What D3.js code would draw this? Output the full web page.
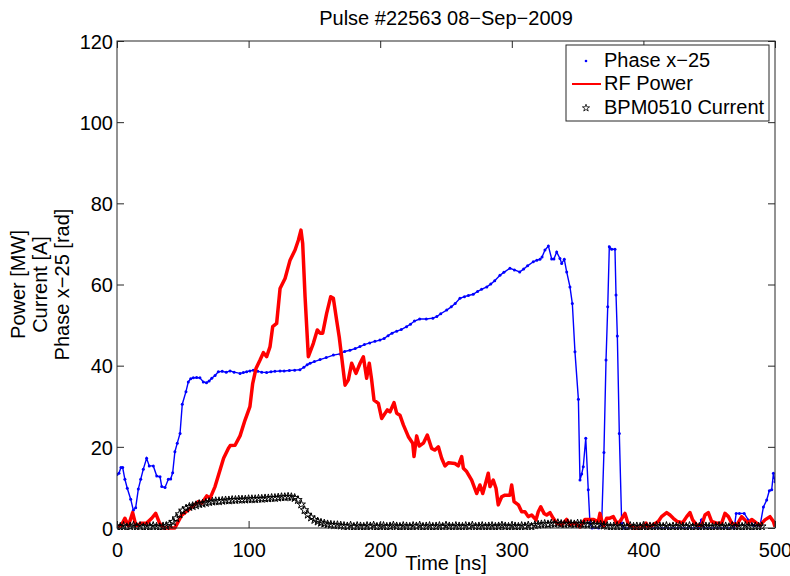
<!DOCTYPE html>
<html>
<head>
<meta charset="utf-8">
<script src="https://cdn.jsdelivr.net/npm/d3@7"></script>
<style>
  body { margin: 0; background: #fff; }
  text { font-family: "Liberation Sans", Arial, Helvetica, sans-serif; fill: #000; }
</style>
</head>
<body>
<div id="chart"></div>
<script>
// ---- data ----
var titleText = "Pulse #22563 08\u2212Sep\u22122009";
var xTicks = [0, 100, 200, 300, 400, 500];
var yTicks = [0, 20, 40, 60, 80, 100, 120];
var seriesNames = ["Phase x\u221225", "RF Power", "BPM0510 Current"];
var yLabelLines = ["Power [MW]", "Current [A]", "Phase x\u221225 [rad]"];

// Phase x-25 (blue)
var phaseT = [0,1.5,3,4.3,6,7.8,10.4,12.4,14.2,16.2,18,20,22.5,24.5,27.6,30.2,32.7,34,36.5,39,40.8,42.3,44,45.8,47.9,49.6,52.4,54.2,56,58,60.5,63,65.6,68,70,72,74.5,77,80,83,85.9,89,93.5,96,98.5,101,103.6,107,110,113.7,117,120,123.9,127,131,135,139,142,144.5,146.7,150,154.3,159,164.4,169.5,173,177,181,184.6,188,192,196,199.8,203,206,209,212.5,216,220,223,226,230,235,240,243,246,250.5,254,257,260.6,264,267,270.7,274,277,281,284,287,291,294,298.6,302,306,309,312,316.3,319,321.4,323,325.2,327.8,330.3,332,334.1,336.6,337.9,339.9,341.7,344.2,346,348,350.6,351.8,353.1,354.3,356.2,358.1,359.4,361,366,368.3,370,371.6,372.9,374.1,375.9,378.4,379.2,380.2,381.7,383.5,385,442,444,446,469,470.5,473,476.6,479.7,483.5,488.6,491.2,493.7,495.7,497.5,498.8,500];
var phaseV = [13.2,13.5,14.9,14.9,12,9.8,7.1,4.4,5,9.6,12,14.5,17.2,15.3,15.3,12.8,12.6,10.2,10,12,12.1,13.6,18.8,20.9,23.3,30.5,33.6,36,36.8,37,37.1,37,36,35.8,36.2,36.9,37.6,38.5,38.6,38.4,38.7,38.4,38.1,38.3,38.5,38.7,38.9,38.6,38.4,38.3,38.5,38.6,38.7,38.7,38.8,38.9,39,39.6,40.2,40.6,41,41.5,42,42.6,42.9,43.5,43.8,44.2,44.7,45.2,45.6,46,46.3,46.7,47.4,48,48.5,48.9,49.6,50.2,51,51.5,51.5,51.7,52.1,52.8,53.7,54.5,55.3,56.6,57,57.3,57.6,58.3,58.8,59.4,60.1,60.9,62.3,63,64,63.6,63.1,63.8,64.6,65.6,66,66.2,66.8,68.5,69.5,66.3,66.3,68,66.4,65.2,66.2,63.1,59.4,55.3,43.4,31.7,11.8,13.3,15.1,22.1,9.4,1.2,0,0,1.2,18.6,41.4,54.5,69.3,68.7,68.7,57.4,47.3,23.3,1.2,0,0,2,0,0,3.6,3.6,3.6,2,0.7,0.5,5.2,6.9,9.2,9.4,13.5,11.4];

// RF Power (red)
var rfT = [0,3,6,8.6,11.9,14.4,18.7,22.5,26.4,29.4,32.2,35.2,44,49.2,55.5,61.8,64.4,68.2,70.7,74.5,78.3,81,84.6,86,89.7,93.5,97.3,101,103.1,105.6,108.7,111.2,113.7,116.3,118.3,121.3,123.9,127.7,131.5,135.3,137.8,139.8,141.1,142.9,145.4,149.2,152.2,154.3,156.3,159.3,162.4,164.4,166.9,168.9,173.3,175.8,178.3,181.6,184.7,187.2,189.7,191.7,193.5,195.3,198.6,201.1,205.4,207.4,210.5,212.5,215,217.6,221.4,224.7,225.7,227.7,229.7,232.8,235.8,239.1,241.6,244.2,246.7,249.2,251.8,256.8,259.3,261.9,263.2,265.7,269.5,273.3,275.8,277.9,280.4,282.1,283.4,285.9,288,289.7,292.3,294.8,298.6,299.9,301.7,305,307.5,310,312.5,315.1,318.4,320.1,322,324.5,326.5,329,331.5,334.1,337.9,341.7,344.2,348,351.8,355.6,361.9,365.7,367,369.5,372.1,374.1,377.1,379.7,382.2,386,388.5,392.4,398.7,402,403.7,411.3,413.8,417.7,420.2,422.7,425.8,429.8,432.9,435.4,437.4,440.5,444.3,446.8,449.3,451.9,455.7,459.5,462,464.6,467.1,470.9,474.7,477.2,479.7,482.3,486.1,488.6,492.4,496.2,498.8,500];
var rfV = [0.3,0.5,2.4,0.5,3.8,0.5,1.2,1.2,2.4,3.6,1.3,0,0,3.2,4.8,6.5,6.1,7.9,7.3,10.2,14.3,17.2,19.6,20.3,20.4,22.7,26.6,29.9,35.6,39.3,41.4,43.2,42.2,44.7,49.6,50.4,59,61.5,66,68.5,70.9,73.4,70.1,57,42.2,45.5,48.8,48,48,52.9,57,56.6,51.2,47,35.2,36.5,40.6,38.1,40.6,42.2,36.9,40.6,36.5,31.5,30.7,27,29.1,28.6,30.9,28.3,27.8,25.4,22.5,20.9,17.6,22.7,20.2,20.9,22.9,19.6,19.2,20,17.2,15.3,16.1,15.9,15.3,17.6,14.7,13.9,11.8,8.5,10.6,8.5,11.4,13.5,10.2,11.8,9.8,5.7,7.7,8.1,8.1,10.6,6.5,5.7,4,4,2.8,3.2,2,4,5.2,3.6,3.2,3.8,2.4,1.2,0.7,2.1,0.7,1.2,0.2,2.1,2.1,1.6,3.6,0.3,2.4,2.4,2.8,1.2,1.6,3.6,0.9,0,0,1.2,0,1.6,2.8,3.8,3.2,2.4,1.6,1.3,2.8,3.8,2,0.7,0.7,3.2,3.8,1.6,1.2,1.2,3.6,2.8,1.2,0.7,2.8,2,1.2,2.1,1.2,0.7,2,2.8,1.6,0.3];

// BPM0510 Current (black), one sample every 2.5 ns from 0 to 500
var bpmStep = 2.5;
var bpmV = [0.4,0.3,0.5,0.2,0.4,0.6,0.3,0.5,0.2,0.4,0.3,0.5,0.3,0.2,0.4,
  0.5,0.9,1.5,2.4,3.4,4.3,4.8,5.2,5.4,5.6,5.9,6.0,6.2,6.4,6.5,6.6,6.6,6.7,6.8,6.8,6.9,6.9,7.0,7.0,7.0,
  7.1,7.1,7.1,7.2,7.2,7.3,7.3,7.4,7.4,7.5,7.6,7.6,7.7,7.6,7.4,6.9,5.8,4.4,3.3,2.6,2.0,1.6,1.3,1.1,0.9,0.8,0.7,0.7,0.6,
  0.5,0.4,0.6,0.3,0.5,0.4,0.3,0.5,0.4,0.6,0.3,0.4,0.5,0.3,0.4,0.6,0.4,0.3,0.5,0.4,0.3,0.5,0.4,0.6,0.3,0.4,
  0.5,0.3,0.4,0.5,0.3,0.6,0.4,0.3,0.5,0.4,0.3,0.5,0.4,0.6,0.3,0.4,0.5,0.3,0.4,0.5,0.3,0.4,0.6,0.4,0.3,0.5,
  0.4,0.3,0.5,0.4,0.6,0.3,
  0.7,0.8,0.9,1.0,0.9,1.1,1.0,1.2,1.0,0.9,1.1,1.0,0.9,1.1,1.0,0.9,0.8,1.0,0.8,0.7,0.8,0.6,
  0.5,0.3,0.4,0.5,0.3,0.4,0.2,0.5,0.3,0.4,0.3,0.5,0.2,0.4,0.3,0.5,0.4,0.3,0.5,0.2,0.4,0.3,0.5,0.4,
  0.3,0.5,0.2,0.4,0.3,0.5,0.4,0.3,0.2,0.4,0.5,0.3,0.4,0.2,0.5,0.3,0.4,0.3,0.5,0.4,0.3,0.4,0.3,0.4];

function main() {
    var W = 790, H = 576;
    var plot = {left: 117, right: 775, top: 41, bottom: 528};

    var xScale = d3.scaleLinear().domain([0, 500]).range([plot.left, plot.right]);
    var yScale = d3.scaleLinear().domain([0, 120]).range([plot.bottom, plot.top]);

    var svg = d3.select("#chart").append("svg")
        .attr("width", W)
        .attr("height", H);

    svg.append("defs").append("clipPath").attr("id", "clip")
        .append("rect")
        .attr("x", plot.left).attr("y", plot.top)
        .attr("width", plot.right - plot.left)
        .attr("height", plot.bottom - plot.top + 2);

    var phase = phaseT.map(function(t, i) { return {t: t, v: phaseV[i]}; });
    var rf = rfT.map(function(t, i) { return {t: t, v: rfV[i]}; });
    var bpm = bpmV.map(function(v, i) { return {t: i * bpmStep, v: v}; });

    var line = d3.line()
        .x(function(d) { return xScale(d.t); })
        .y(function(d) { return yScale(d.v); });

    var g = svg.append("g").attr("clip-path", "url(#clip)");

    // phase: thin blue line with dot markers
    g.append("path")
        .datum(phase)
        .attr("fill", "none")
        .attr("stroke", "#0000ff")
        .attr("stroke-width", 1.4)
        .attr("d", line);
    g.append("g")
        .selectAll("circle")
        .data(phase)
        .join("circle")
        .attr("cx", d => xScale(d.t))
        .attr("cy", d => yScale(d.v))
        .attr("r", 1.5)
        .attr("fill", "#0000ff");

    // rf power: thick red line
    g.append("path")
        .datum(rf)
        .attr("fill", "none")
        .attr("stroke", "#ff0000")
        .attr("stroke-width", 3.5)
        .attr("stroke-linejoin", "round")
        .attr("d", line);

    // bpm current: star markers only
    var star = d3.symbol().type(d3.symbolStar).size(22);
    g.append("g")
        .selectAll("path")
        .data(bpm)
        .join("path")
        .attr("transform", d => "translate(" + xScale(d.t) + "," + yScale(d.v) + ")")
        .attr("d", star)
        .attr("fill", "none")
        .attr("stroke", "#000")
        .attr("stroke-width", 1);

    // axes box with inward ticks on all four sides
    var tickLen = 7;
    svg.append("rect")
        .attr("x", plot.left).attr("y", plot.top)
        .attr("width", plot.right - plot.left)
        .attr("height", plot.bottom - plot.top)
        .attr("fill", "none")
        .attr("stroke", "#262626")
        .attr("stroke-width", 1);

    var bottomAxis = svg.append("g")
        .attr("transform", "translate(0," + plot.bottom + ")")
        .call(d3.axisBottom(xScale).tickValues(xTicks).tickSizeInner(-tickLen).tickSizeOuter(0).tickPadding(15));
    var topAxis = svg.append("g")
        .attr("transform", "translate(0," + plot.top + ")")
        .call(d3.axisTop(xScale).tickValues(xTicks).tickSizeInner(-tickLen).tickSizeOuter(0).tickFormat(""));
    var leftAxis = svg.append("g")
        .attr("transform", "translate(" + plot.left + ",0)")
        .call(d3.axisLeft(yScale).tickValues(yTicks).tickSizeInner(-tickLen).tickSizeOuter(0).tickPadding(4));
    var rightAxis = svg.append("g")
        .attr("transform", "translate(" + plot.right + ",0)")
        .call(d3.axisRight(yScale).tickValues(yTicks).tickSizeInner(-tickLen).tickSizeOuter(0).tickFormat(""));

    [bottomAxis, topAxis, leftAxis, rightAxis].forEach(function(a) {
        a.select(".domain").remove();
        a.selectAll(".tick line").attr("stroke", "#262626");
        a.selectAll(".tick text")
            .style("font-family", "'Liberation Sans', Arial, sans-serif")
            .style("font-size", "20px")
            .attr("fill", "#000");
    });
    leftAxis.selectAll(".tick text").attr("dy", "0.36em");
    bottomAxis.selectAll(".tick text").attr("dy", "0.71em");

    // title and axis labels
    svg.append("text")
        .attr("x", (plot.left + plot.right) / 2)
        .attr("y", 25)
        .attr("text-anchor", "middle")
        .style("font-size", "20px")
        .text(titleText);

    svg.append("text")
        .attr("x", (plot.left + plot.right) / 2)
        .attr("y", 570)
        .attr("text-anchor", "middle")
        .style("font-size", "20px")
        .text("Time [ns]");

    var yMid = (plot.top + plot.bottom) / 2;
    yLabelLines.forEach(function(s, i) {
        svg.append("text")
            .attr("transform", "translate(" + (25 + i * 22) + "," + yMid + ") rotate(-90)")
            .attr("text-anchor", "middle")
            .style("font-size", "20px")
            .text(s);
    });

    // legend
    var lg = svg.append("g");
    lg.append("rect")
        .attr("x", 566).attr("y", 45)
        .attr("width", 203).attr("height", 76)
        .attr("fill", "#fff")
        .attr("stroke", "#262626")
        .attr("stroke-width", 1);
    var rowY = [61, 84, 108];
    seriesNames.forEach(function(name, i) {
        lg.append("text")
            .attr("x", 604)
            .attr("y", rowY[i] + 6)
            .style("font-size", "20px")
            .text(name);
    });
    lg.append("circle").attr("cx", 586).attr("cy", rowY[0]).attr("r", 1.3).attr("fill", "#0000ff");
    lg.append("line")
        .attr("x1", 572).attr("x2", 601)
        .attr("y1", rowY[1]).attr("y2", rowY[1])
        .attr("stroke", "#ff0000").attr("stroke-width", 2);
    lg.append("path")
        .attr("transform", "translate(586," + rowY[2] + ")")
        .attr("d", d3.symbol().type(d3.symbolStar).size(16))
        .attr("fill", "none").attr("stroke", "#000").attr("stroke-width", 0.8);
}
main();
</script>
</body>
</html>
